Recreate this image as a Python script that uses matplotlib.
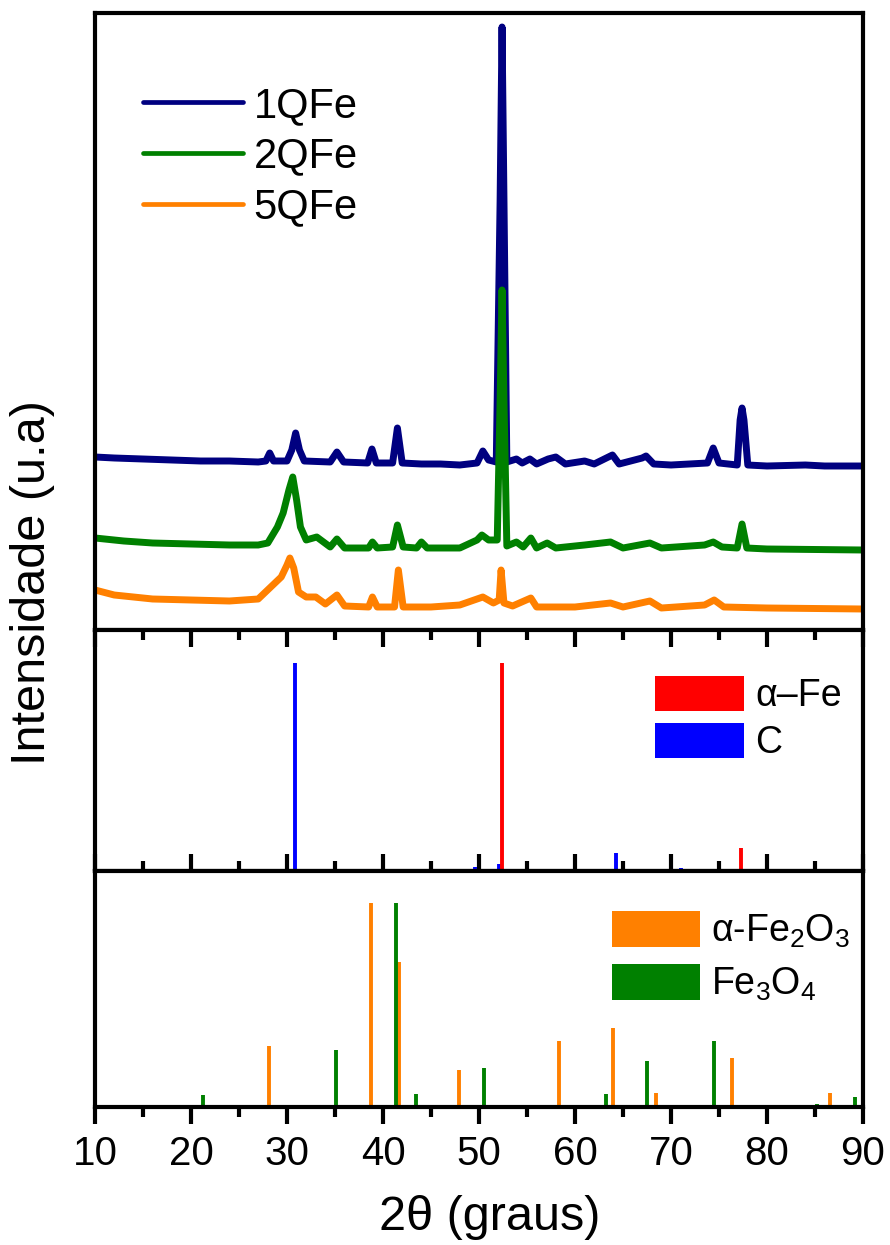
import matplotlib
matplotlib.use("Agg")
import matplotlib.pyplot as plt
from matplotlib.patches import Patch

plt.rcParams['font.family'] = ['Liberation Sans', 'DejaVu Sans']
plt.rcParams['mathtext.fontset'] = 'custom'
plt.rcParams['mathtext.rm'] = 'Liberation Sans'
plt.rcParams['mathtext.it'] = 'Liberation Sans:italic'

# ---------------- data ----------------
x_1q = [10.0, 12, 15, 18, 21, 24, 27, 27.8, 28.2, 28.6, 30.0, 30.5, 30.9, 31.3, 31.8,
        34.5, 35.2, 35.9, 38.4, 38.85, 39.3, 41.0, 41.5, 42.0, 44, 46, 48, 49.8, 50.4,
        51.0, 51.8, 52.2, 52.4, 52.6, 52.9, 53.9, 54.5, 55.3, 56, 57.2, 58, 59, 61, 62,
        63.9, 64.6, 67.0, 67.4, 68.2, 70, 73.8, 74.4, 75.0, 76.9, 77.2, 77.4, 77.6, 78.0,
        80, 84, 86, 90]
y_1q = [173, 172, 171, 170, 169, 169, 168, 169, 177, 169, 169, 180, 197, 180, 169,
        168, 178, 168, 167, 181, 167, 167, 202, 167, 166, 166, 165, 167, 179,
        170, 168, 430, 603, 430, 168, 171, 167, 171, 166, 171, 173, 166, 169, 166,
        175, 166, 172, 174, 166, 165, 167, 182, 167, 165, 210, 222, 210, 165,
        164, 165, 164, 164]

x_2q = [10, 13, 16, 20, 24, 27, 28, 29, 29.6, 30.2, 30.6, 31.0, 31.4, 32.0, 33.1, 34.5,
        35.2, 36, 38.5, 38.9, 39.4, 41.0, 41.5, 42.1, 43.5, 44.0, 44.6, 48, 49.8, 50.3,
        51.0, 51.9, 52.2, 52.4, 52.6, 52.9, 53.9, 54.6, 55.4, 56, 57.1, 58, 61, 63.7, 65,
        67.8, 69, 73.5, 74.4, 75.3, 76.9, 77.4, 77.9, 80, 90]
y_2q = [92, 89, 87, 86, 85, 85, 87, 103, 117, 140, 153, 130, 103, 90, 93, 83,
        91, 82, 82, 88, 82, 83, 105, 83, 82, 88, 82, 82, 90, 95,
        90, 90, 230, 340, 230, 84, 88, 83, 92, 82, 87, 82, 85, 88, 82,
        87, 82, 85, 88, 83, 82, 106, 82, 81, 80]

x_5q = [10, 12, 16, 20, 24, 27, 28.2, 29.4, 30.0, 30.3, 30.7, 31.2, 32, 33, 34, 35.2, 36,
        38.5, 38.9, 39.4, 41.2, 41.6, 42.1, 45, 48, 50.4, 51.5, 52.1, 52.3, 52.6, 53.5,
        55.4, 56, 60, 63.7, 65, 67.8, 69, 73.5, 74.5, 75.5, 80, 90]
y_5q = [40, 35, 31, 30, 29, 31, 42, 53, 65, 72, 62, 38, 33, 33, 26, 35, 24,
        23, 33, 23, 23, 60, 23, 23, 25, 33, 27, 30, 60, 27, 24,
        32, 23, 23, 27, 23, 29, 22, 25, 30, 23, 22, 21]

fe_pos = [52.4, 77.3]
fe_int = [207, 23]
c_pos = [30.8, 49.6, 52.1, 64.3, 71.0]
c_int = [207, 4, 7, 18, 3]

hem_pos = [28.15, 38.8, 41.7, 46.0, 47.95, 51.1, 58.3, 64.0, 68.1, 68.4, 76.4, 83.6, 86.6, 87.0]
hem_int = [61, 204, 145, 2, 37, 2, 66, 79, 2, 14, 49, 2, 14, 2]
mag_pos = [21.2, 35.1, 41.4, 43.4, 50.55, 55.5, 63.2, 67.5, 74.5, 85.2, 89.2]
mag_int = [12, 57, 204, 13, 39, 1, 13, 46, 66, 3, 10]

xticks = [10, 20, 30, 40, 50, 60, 70, 80, 90]
minor_ticks = [15, 25, 35, 45, 55, 65, 75, 85]

# ---------------- figure ----------------
W, H = 890, 1245
fig = plt.figure(figsize=(W / 100, H / 100), dpi=100)
gs = fig.add_gridspec(3, 1, height_ratios=[617, 241, 236], hspace=0,
                      left=95 / W, right=863 / W, top=1 - 13 / H, bottom=1 - 1107 / H)
ax1 = fig.add_subplot(gs[0])
ax2 = fig.add_subplot(gs[1], sharex=ax1)
ax3 = fig.add_subplot(gs[2], sharex=ax1)

SP = 3.0
LW = 5.0

for ax in (ax1, ax2, ax3):
    for s in ax.spines.values():
        s.set_linewidth(SP)
    ax.set_yticks([])
    ax.set_xlim(10, 90)

ax1.plot(x_1q, y_1q, color='#000080', lw=LW, solid_joinstyle='round', solid_capstyle='round', label='1QFe')
ax1.plot(x_2q, y_2q, color='#008000', lw=LW, solid_joinstyle='round', solid_capstyle='round', label='2QFe')
ax1.plot(x_5q, y_5q, color='#FF8000', lw=LW, solid_joinstyle='round', solid_capstyle='round', label='5QFe')
ax1.set_ylim(0, 617)
ax1.tick_params(axis='x', which='both', bottom=False, top=False, labelbottom=False)
leg1 = ax1.legend(loc='upper left', bbox_to_anchor=(0.0625, 0.882), frameon=False, fontsize=30,
                  handlelength=2.4, handletextpad=0.25, labelspacing=0.26, borderaxespad=0,
                  borderpad=0)
for h in leg1.get_lines():
    h.set_linewidth(3.4)

ax2.vlines(c_pos, 0, c_int, colors='#0000FF', lw=2.8)
ax2.vlines(fe_pos, 0, fe_int, colors='#FF0000', lw=2.8)
ax2.set_ylim(0, 240)
h2 = [Patch(facecolor='#FF0000', edgecolor='none', label='α–Fe'),
      Patch(facecolor='#0000FF', edgecolor='none', label='C')]
ax2.legend(handles=h2, loc='upper left', bbox_to_anchor=(0.729, 0.81), frameon=False, fontsize=27,
           handlelength=2.37, handleheight=1.08, handletextpad=0.3, labelspacing=0.22,
           borderaxespad=0, borderpad=0)

ax3.vlines(hem_pos, 0, hem_int, colors='#FF8000', lw=2.8)
ax3.vlines(mag_pos, 0, mag_int, colors='#008000', lw=2.8)
ax3.set_ylim(0, 236)
h3 = [Patch(facecolor='#FF8000', edgecolor='none', label=r'α-Fe$_\mathregular{2}$O$_\mathregular{3}$'),
      Patch(facecolor='#008000', edgecolor='none', label=r'Fe$_\mathregular{3}$O$_\mathregular{4}$')]
ax3.legend(handles=h3, loc='upper left', bbox_to_anchor=(0.673, 0.83), frameon=False, fontsize=27,
           handlelength=2.35, handleheight=1.08, handletextpad=0.3, labelspacing=0.38,
           borderaxespad=0, borderpad=0)

for ax in (ax2, ax3):
    ax.set_xticks(xticks)
    ax.set_xticks(minor_ticks, minor=True)
    ax.tick_params(axis='x', which='major', direction='in', top=True, bottom=False,
                   length=12, width=SP, labelbottom=False)
    ax.tick_params(axis='x', which='minor', direction='in', top=True, bottom=False,
                   length=7, width=SP)

ax3.tick_params(axis='x', which='major', bottom=True, direction='out', length=12, width=SP,
                labelbottom=True, labelsize=29, pad=8)
ax3.tick_params(axis='x', which='minor', bottom=True, direction='out', length=7, width=SP)
ax3.xaxis.set_tick_params(which='both', top=True)

fig.text(33 / W, 1 - 583 / H, 'Intensidade (u.a)', rotation=90, ha='center', va='center', fontsize=35)
fig.text(490 / W, 1 - 1218 / H, '2θ (graus)', ha='center', va='center', fontsize=35)

fig.savefig('out.png', dpi=100)
